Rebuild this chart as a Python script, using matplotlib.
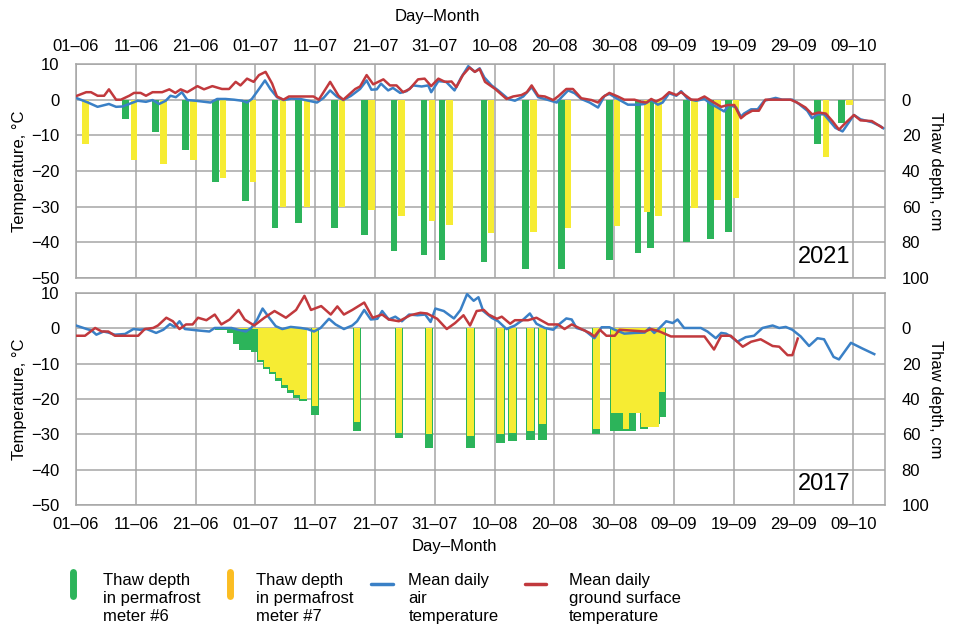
import matplotlib
matplotlib.use('Agg')
import matplotlib.pyplot as plt
from matplotlib.lines import Line2D

plt.rcParams['font.family'] = ['Liberation Sans', 'DejaVu Sans']

# x axis: days counted from 01-06
tick_days = [0, 10, 20, 30, 40, 50, 60, 70, 80, 90, 100, 110, 120, 130]
tick_labels = ['01–06', '11–06', '21–06', '01–07', '11–07', '21–07', '31–07',
               '10–08', '20–08', '30–08', '09–09', '19–09', '29–09', '09–10']

# ---- 2021 ----
air21_day = [0, 2, 3.6, 5.5, 6.7, 7.8, 9.2, 10.3, 11.7, 12.8, 13.9, 15, 15.8, 16.7, 17.7,
             18.6, 20, 21, 22.5, 23.6, 25, 26.4, 27.8, 28.6, 29.4, 30.6, 31.6, 32.5, 33.6,
             34.7, 36, 37.5, 38.9, 40.3, 41.4, 42.5, 43.6, 44.7, 46, 47.5, 48.6, 49.4, 50.3,
             51, 52.2, 53, 54.2, 55.3, 56.4, 57.8, 58.9, 59.4, 60.6, 61.9, 63.3, 64.4, 65.6,
             66.7, 67.5, 68.3, 69.5, 70.6, 72.3, 73.4, 74.8, 76.2, 77.3, 79, 80.4, 81.2, 82.3,
             83.4, 84.5, 85.9, 87.3, 88.4, 89.2, 90.6, 92.3, 94, 95.1, 96.2, 97.3, 98.1, 99.2,
             100.4, 101.2, 102.3, 103.7, 105.1, 106.2, 107.3, 108.4, 109.2, 110.4, 111.2,
             111.7, 112.9, 114, 115.1, 117, 118.1, 119.8, 120.9, 122.3, 123.1, 124, 125.1,
             127, 128.2, 130.1, 131.2, 133.1, 134.5, 135]
air21_t = [0.5, -0.8, -2, -1.2, -2, -1.9, -1, -0.3, -0.6, -0.1, -1.2, -0.3, 1.1, 0.7, 2.1,
           -0.1, -0.3, -0.5, -0.8, 0.2, 0.2, 0, -0.3, -0.8, 0.2, 3, 5.4, 3, 0.7,
           -0.1, 0.3, 0.2, -0.3, -0.8, 0.5, 2.6, 0.9, -0.1, 1.1, 3, 5.4, 2.8, 2.9,
           4.5, 2.6, 3.3, 1.9, 2.4, 4, 3.7, 4, 2.1, 5.2, 5, 2.6, 6.2, 9.4,
           7.8, 8.8, 6.2, 4, 2.6, 0.2, -0.3, 0.9, 3.5, 0.7, -0.1, -0.8, 0.7, 2.6,
           1.8, 0.2, -0.8, -2.2, 1.1, 1.6, 0.2, -1.4, -1.4, -1.2, -0.1, -1.4, -0.8, 1.8,
           1.1, 2.4, 0.2, -0.3, 0.2, -1.2, -2.2, -3.3, -1.4, -2.2, -4.8,
           -3.9, -2.7, -2.7, -0.3, 0.5, 0, 0, -1.2, -3.1, -5.2, -4.1, -4.1,
           -7.9, -8.9, -4.3, -5.5, -6.3, -7.4, -8]

ground21_day = [0, 1.7, 2.5, 3.6, 4.7, 5.5, 6.7, 7.5, 8.9, 9.7, 10.8, 11.7, 12.8, 14.4, 15.6,
                16.6, 17.5, 18.6, 20.3, 21.4, 22.8, 24.4, 25.6, 26.7, 27.5, 28.6, 29.7, 30.6,
                31.7, 32.8, 33.6, 34.7, 35.6, 38.9, 39.7, 40.6, 42.5, 43.9, 44.7, 46.7, 47.5,
                48.6, 49.7, 51.4, 52.5, 53.6, 54.7, 55.8, 57.2, 58.3, 59.4, 60.6, 61.7, 62.8,
                63.6, 64.7, 65.8, 66.7, 67.5, 68.4, 70.1, 72, 73.1, 74.5, 75.4, 76.2, 77.3,
                78.4, 79.8, 80.6, 82, 83.1, 84.5, 86.2, 87.3, 88.1, 89.2, 90.6, 91.7, 93.4,
                94.5, 95.4, 96.2, 97, 98.1, 99.2, 100.4, 101.2, 102.9, 104, 105.1, 106.5,
                107.9, 109, 110.1, 111.2, 112, 113.1, 114.2, 115.3, 119.5, 120.6, 122, 123.1,
                124.2, 125.4, 126.5, 127.6, 128.4, 130.1, 131.2, 133.1, 134.8]
ground21_t = [1, 2.1, 2.1, 1.1, 1.1, 2.9, 0, 0, 1.1, 1.9, 1.9, 1.1, 2.1, 2.1, 2.9,
              1.9, 2.9, 2.1, 3.8, 2.9, 3.8, 3, 3, 5, 4, 5.9, 5, 6.9,
              7.8, 4.5, 0.9, 0, 0.9, 0.9, 0.9, 0, 5, 1.1, 0, 3, 3.7,
              6.9, 4.3, 5.7, 4, 4, 2.1, 3, 5.7, 5.9, 3.8, 5.9, 5, 5.1,
              3.5, 6.9, 9, 7.8, 8.6, 5, 3, 0.2, 0.9, 1.3, 2.1, 4, 1.1,
              0.9, -0.1, 0.9, 3, 3, 0.4, -0.1, -0.8, 0.7, 1.9, 0.9, 0, 0,
              -0.6, -0.8, 0.2, -0.5, 0.4, 2.1, 1.3, 2.1, 0, 0, 0.9, -0.6,
              -2, -1.5, -1.5, -5.2, -4.1, -3.1, -3.1, 0, 0, -0.8, -2.2, -4.1,
              -3.6, -3.9, -6, -8.4, -7, -4.3, -5.8, -6, -7.8]

# thaw depth, cm
m6_21_day = [8.3, 13.3, 18.3, 23.3, 28.3, 33.3, 37.2, 43.2, 48.2, 53.2, 58.2, 61.2, 68.2,
             75.2, 81.2, 89.2, 94.0, 96.1, 102.1, 106.1, 109.1, 124.0, 128.0]
m6_21_cm = [11, 18, 28, 46, 57, 72, 69, 72, 76, 85, 87, 90, 91,
            95, 95, 90, 86, 83, 80, 78, 74, 25, 13]
m7_21_day = [1.6, 9.7, 14.6, 19.6, 24.6, 29.6, 34.6, 38.6, 44.5, 49.4, 54.4, 59.5, 62.5,
             69.4, 76.5, 82.3, 90.5, 95.5, 97.4, 103.4, 107.3, 110.4, 125.4, 129.4]
m7_21_cm = [25, 34, 36, 34, 44, 46, 60, 60, 60, 62, 65, 68, 70,
            75, 74, 72, 71, 63, 65, 61, 56, 55, 32, 3]

# ---- 2017 ----
air17_day = [0, 1.8, 2.6, 3.4, 4.6, 5.4, 6.5, 8.2, 9.6, 10.7, 11.8, 13.4, 14.6, 15.7, 16.5,
             17.3, 18.2, 20.4, 22.3, 23.2, 24.3, 26, 27.1, 28.4, 29.3, 30.3, 31.2, 32.3, 33.4,
             34.5, 35.9, 37.6, 38.7, 39.8, 40.9, 42.3, 43.4, 44.8, 46.2, 47, 48.2, 49.3, 50.4,
             51.2, 52.3, 53.4, 54.5, 55.7, 57.1, 58.4, 59.3, 60.1, 61.5, 63.2, 64.3, 65.4,
             66.5, 67.3, 68.1, 69.5, 70.6, 72, 73.4, 74.8, 75.9, 77, 78.4, 79.8, 80.9, 82,
             82.9, 83.7, 85.1, 86.7, 87.9, 89.2, 90.1, 91.7, 93.4, 95.1, 95.9, 96.7, 97.6,
             98.7, 99.8, 100.6, 101.7, 104.5, 105.6, 107, 107.9, 108.7, 109.5, 110.6, 112,
             113.4, 114.8, 116.5, 117.6, 118.7, 119.8, 121.2, 122.6, 124, 125.1, 126.7,
             127.6, 129.6, 131.5, 133.5]
air17_t = [0.8, -0.2, -0.6, -1.8, -0.9, -1.2, -1.8, -1.6, -0.2, -0.4, -0.2, -1.3, -0.4, 1.2, 0.4,
           2, -0.2, -0.6, -0.9, 0.1, 0.1, 0.1, -0.4, -0.9, 0.1, 2.5, 5.6, 3, 0.6,
           -0.2, 0.4, 0.1, -0.2, -0.9, 0.1, 2.7, 1.1, -0.2, 0.8, 2, 5.2, 2.5, 2.7,
           4.9, 2.5, 3.3, 2, 3.9, 3.7, 3.9, 1.8, 5.6, 4.9, 2.8, 5.2, 9.7,
           7.8, 8.8, 4.9, 3, 2, -0.2, 0.8, 2.5, 4.2, 1.3, 0.1, -0.4, 1.3, 2.8,
           2.5, 0.1, -0.6, -2.8, 0.3, 0.3, -0.4, -1.5, -1.3, -1.2, 0.1, -1.3, 0.1,
           2, 1.5, 2.5, 0.1, 0.1, -0.9, -2.8, -1.3, -1.5, -2.3, -3.8, -2.5,
           -2.1, 0.1, 0.8, 0.1, 0.4, -0.4, -2.3, -5, -2.8, -3.1, -8.1,
           -8.8, -4.1, -5.7, -7.3]

ground17_day = [0, 1.5, 3.2, 4.3, 5.4, 6.5, 10.4, 11.5, 12.9, 13.7, 15.1, 16.2, 17.3, 18.4,
                19.5, 20.4, 21.8, 23.2, 24.3, 25.7, 27.2, 28.2, 29.8, 31.5, 33.2, 35.1, 36.8,
                38.2, 39.3, 41, 42.6, 43.7, 44.8, 46.2, 48.2, 49.6, 51.2, 52.3, 54, 55.9,
                57.6, 58.7, 60.4, 62, 63.4, 64.8, 65.9, 67, 68.2, 69, 70.4, 71.2, 72.6, 73.4,
                75.6, 77, 79, 80.6, 81.7, 82.9, 84.5, 85.9, 86.7, 87.6, 88.7, 90.1, 90.9,
                95.1, 96.2, 97.6, 99.5, 100.6, 105.1, 106.7, 107.9, 109.5, 111.5, 112.9,
                114.5, 116.5, 117.6, 119, 119.8, 120.7]
ground17_t = [-2.1, -2.1, 0.1, -0.9, -0.9, -2.1, -2.1, -0.2, 0.1, 0.8, 3, 2, -0.2, 1.1,
              1.1, 3, 2.3, 3.9, 1.1, 2.5, 5.2, 2.5, 0.8, 3, 4.9, 3, 5.2,
              9.2, 5.2, 6.3, 3.9, 6.2, 3.9, 5.2, 7.3, 3, 3.9, 2.5, 2, 3.7,
              4.4, 4.2, 2.7, -0.2, 1.5, 3.7, 0.8, 4.9, 5.2, 3.9, 2.7, 3.3, 1.3, 2.3,
              2.3, 3, 1.1, 1.1, -0.2, 1.1, -0.2, -1.3, -2.3, -0.4, -2.1, -2.1, -0.4,
              -0.9, -0.2, -0.9, -2.3, -2.3, -2.3, -6, -2.1, -2.1, -5.2, -3.8,
              -3.1, -5, -5.2, -7.6, -7.6, -2.9]

m6_17_day = [24, 25, 26, 27, 28, 29, 30, 31, 32, 33, 34, 35, 36, 37, 38, 40, 47, 54, 59,
             66, 71, 73, 76, 78, 87, 90, 91, 92, 93, 94, 95, 96, 97, 98]
m6_17_cm = [1, 1, 2.6, 8.6, 12.4, 12.4, 13.4, 19, 23, 26, 30, 33.6, 36.6, 39.2, 41.2, 49, 58,
            62, 68, 68, 65, 64, 63, 63, 60, 58, 58, 58, 58, 48, 57, 56, 54, 50]
m7_17_day = [24, 25, 26, 27, 28, 29, 30, 31, 32, 33, 34, 35, 36, 37, 38, 40, 47, 54, 59,
             66, 71, 73, 76, 78, 87, 90, 91, 92, 93, 94, 95, 96, 97, 98]
m7_17_cm = [0.5, 0.5, 0.5, 0.5, 0.5, 0.5, 0.5, 18, 22, 25, 28, 32, 35, 38, 40, 44, 53,
            59, 60, 61, 60, 59, 58, 54, 57, 48, 48, 57, 48, 48, 56, 56, 56, 36]

GREEN = '#2cb45a'
YELLOW = '#f6ec33'
BLUE = '#3a80c6'
RED = '#c1393d'
GRID = '#a6a6a6'


def cm_to_t(d):
    return -d / 2.0


def t_to_cm(t):
    return -2.0 * t


def panel(ax, year, air_d, air_t, gr_d, gr_t, g_d, g_cm, y_d, y_cm, gw, yw, top):
    ax.bar(g_d, [cm_to_t(v) for v in g_cm], width=gw, color=GREEN, zorder=2)
    ax.bar(y_d, [cm_to_t(v) for v in y_cm], width=yw, color=YELLOW, zorder=2.1)
    ax.plot(air_d, air_t, color=BLUE, lw=1.8, zorder=3)
    ax.plot(gr_d, gr_t, color=RED, lw=1.8, zorder=3.1)

    ax.set_xlim(0, 135.3)
    ax.set_ylim(-50, 10)
    ax.set_yticks(range(-50, 11, 10))
    ax.set_xticks(tick_days)
    ax.grid(color=GRID, lw=1.1)
    ax.set_axisbelow(True)
    for s in ax.spines.values():
        s.set_color(GRID)
        s.set_linewidth(1.1)
    ax.tick_params(axis='y', length=0, labelsize=12, pad=12)
    ax.tick_params(axis='x', length=0, labelsize=12, pad=7 if top else 9)
    ax.set_ylabel('Temperature, °C', fontsize=12, labelpad=3)

    sec = ax.secondary_yaxis('right', functions=(t_to_cm, cm_to_t))
    sec.set_yticks([0, 20, 40, 60, 80, 100])
    sec.tick_params(length=0, labelsize=12, pad=12)
    sec.spines['right'].set_visible(False)
    sec.set_ylabel('Thaw depth, cm', fontsize=12, rotation=270, labelpad=10)

    if top:
        ax.xaxis.tick_top()
        ax.xaxis.set_label_position('top')
    ax.set_xticklabels(tick_labels)
    ax.set_xlabel('Day–Month', fontsize=12)
    ax.xaxis.set_label_coords(0.447 if top else 0.468, 1.20 if top else -0.16)
    ax.text(0.925, 0.045, year, transform=ax.transAxes, ha='center', va='bottom',
            fontsize=17, zorder=5)


fig = plt.figure(figsize=(9.54, 6.27), dpi=100)
ax1 = fig.add_axes([0.0797, 0.5566, 0.848, 0.3413])
ax2 = fig.add_axes([0.0797, 0.1946, 0.848, 0.3381])

panel(ax1, '2021', air21_day, air21_t, ground21_day, ground21_t,
      m6_21_day, m6_21_cm, m7_21_day, m7_21_cm, 1.1, 1.1, True)
panel(ax2, '2017', air17_day, air17_t, ground17_day, ground17_t,
      m6_17_day, m6_17_cm, m7_17_day, m7_17_cm, 1.4, 1.1, False)

# legend drawn by hand below the panels
fig.add_artist(Line2D([0.076, 0.076], [0.05, 0.088], transform=fig.transFigure,
                      color=GREEN, lw=5, solid_capstyle='round'))
fig.add_artist(Line2D([0.241, 0.241], [0.05, 0.088], transform=fig.transFigure,
                      color='#fbbd22', lw=5, solid_capstyle='round'))
fig.add_artist(Line2D([0.389, 0.412], [0.068, 0.068], transform=fig.transFigure,
                      color=BLUE, lw=2.5, solid_capstyle='round'))
fig.add_artist(Line2D([0.550, 0.572], [0.068, 0.068], transform=fig.transFigure,
                      color=RED, lw=2.5, solid_capstyle='round'))
kw = dict(fontsize=12, va='top', ha='left', linespacing=1.25)
fig.text(0.108, 0.086, 'Thaw depth\nin permafrost\nmeter #6', **kw)
fig.text(0.268, 0.086, 'Thaw depth\nin permafrost\nmeter #7', **kw)
fig.text(0.428, 0.086, 'Mean daily\nair\ntemperature', **kw)
fig.text(0.596, 0.086, 'Mean daily\nground surface\ntemperature', **kw)

fig.savefig('out.png', dpi=100)
